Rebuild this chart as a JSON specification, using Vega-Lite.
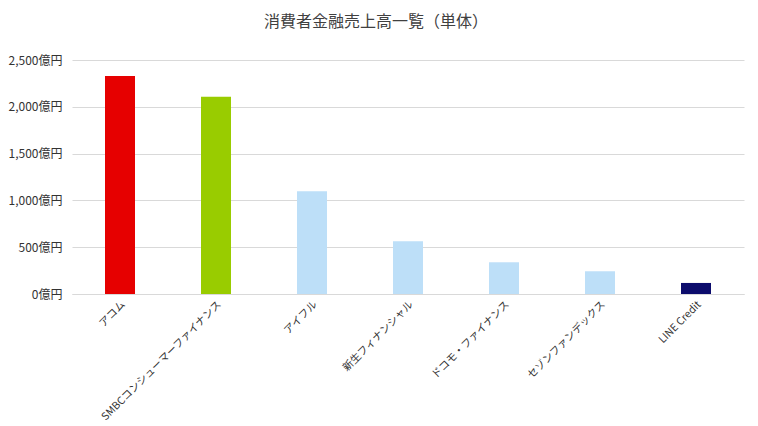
{
  "$schema": "https://vega.github.io/schema/vega-lite/v6.json",
  "autosize": {"type": "none"},
  "padding": {"left": 72, "top": 60, "right": 14, "bottom": 132},
  "width": 672,
  "height": 234,
  "background": "white",
  "title": {
    "text": "消費者金融売上高一覧（単体）",
    "font": "Noto Sans CJK JP",
    "fontSize": 16,
    "fontWeight": "normal",
    "color": "#404040",
    "anchor": "middle",
    "dx": -32,
    "offset": 24
  },
  "data": {
    "values": [
      {"company": "アコム", "sales": 2329, "group": "acom"},
      {"company": "SMBCコンシューマーファイナンス", "sales": 2108, "group": "smbc"},
      {"company": "アイフル", "sales": 1097, "group": "other"},
      {"company": "新生フィナンシャル", "sales": 564, "group": "other"},
      {"company": "ドコモ・ファイナンス", "sales": 339, "group": "other"},
      {"company": "セゾンファンデックス", "sales": 243, "group": "other"},
      {"company": "LINE Credit", "sales": 118, "group": "line"}
    ]
  },
  "mark": {"type": "bar", "size": 30},
  "encoding": {
    "x": {
      "field": "company",
      "type": "nominal",
      "sort": null,
      "title": null,
      "axis": {
        "labelAngle": -45,
        "labelFont": "Noto Sans CJK JP",
        "labelFontSize": 10.5,
        "labelColor": "#333333",
        "labelPadding": 5,
        "ticks": false,
        "domainColor": "#d9d9d9",
        "labelLimit": 300
      }
    },
    "y": {
      "field": "sales",
      "type": "quantitative",
      "title": null,
      "scale": {"domain": [0, 2500]},
      "axis": {
        "values": [0, 500, 1000, 1500, 2000, 2500],
        "labelExpr": "format(datum.value, ',') + '億円'",
        "labelFont": "Noto Sans CJK JP",
        "labelFontSize": 12,
        "labelColor": "#333333",
        "labelPadding": 10,
        "ticks": false,
        "domain": false,
        "gridColor": "#d9d9d9"
      }
    },
    "color": {
      "field": "group",
      "type": "nominal",
      "legend": null,
      "scale": {
        "domain": ["acom", "smbc", "other", "line"],
        "range": ["#e60000", "#99cc00", "#bddff8", "#0c0c6c"]
      }
    }
  },
  "config": {"view": {"stroke": null}}
}
